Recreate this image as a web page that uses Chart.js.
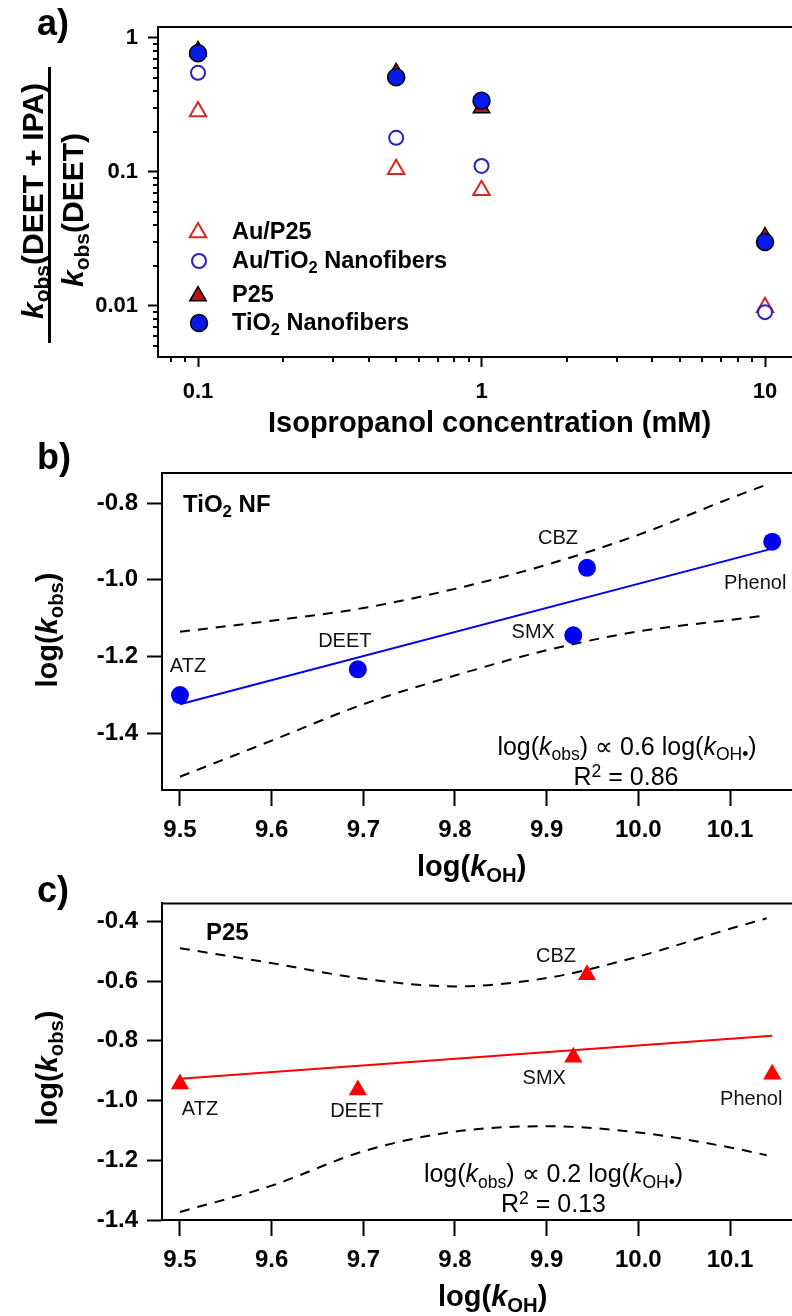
<!DOCTYPE html>
<html>
<head>
<meta charset="utf-8">
<script src="https://cdn.jsdelivr.net/npm/chart.js@4.4.1/dist/chart.umd.min.js"></script>
<style>
body{margin:0;width:792px;height:1316px;position:relative;overflow:hidden;background:#fff;font-family:"Liberation Sans",Arial,sans-serif;color:#000}
canvas{display:block}
.pan{position:absolute;left:0}
.t{position:absolute;white-space:nowrap;line-height:1}
.rot{position:absolute;white-space:nowrap;line-height:1;font-weight:bold;transform:translate(-50%,-50%) rotate(-90deg)}
.sb{font-size:0.7em;position:relative;top:0.3em}
.sp{font-size:0.7em;position:relative;top:-0.45em}
</style>
</head>
<body>
<div class="pan" style="top:0"><canvas id="ca" width="792" height="440"></canvas></div>
<div class="pan" style="top:440px"><canvas id="cb" width="792" height="440"></canvas></div>
<div class="pan" style="top:880px"><canvas id="cc" width="792" height="436"></canvas></div>
<div class="rot" style="left:33px;top:201px;font-size:30px"><i>k</i><span class="sb">obs</span>(DEET + IPA)</div>
<div style="position:absolute;left:48px;top:67px;width:3px;height:276px;background:#000"></div>
<div class="rot" style="left:73px;top:210px;font-size:30px"><i>k</i><span class="sb">obs</span>(DEET)</div>
<div class="rot" style="left:47px;top:630px;font-size:29px">log(<i>k</i><span class="sb">obs</span>)</div>
<div class="rot" style="left:47px;top:1068px;font-size:29px">log(<i>k</i><span class="sb">obs</span>)</div>
<script>
Chart.defaults.font.family = '"Liberation Sans", Arial, sans-serif';
Chart.defaults.color = '#000';

// a) k_obs ratio for DEET with isopropanol added
const ipaConc = [0.1, 0.5, 1, 10];
const ratioAuP25 = [0.283, 0.105, 0.073, 0.0098];
const ratioAuNF = [0.55, 0.18, 0.111, 0.009];
const ratioP25 = [0.80, 0.55, 0.30, 0.0327];
const ratioNF = [0.77, 0.51, 0.34, 0.030];
const ticksA_x = [0.1, 1, 10];
const minorA_x = [0.08, 0.09, 0.2, 0.3, 0.4, 0.5, 0.6, 0.7, 0.8, 0.9, 2, 3, 4, 5, 6, 7, 8, 9];
const ticksA_y = [0.01, 0.1, 1];
const minorA_y = [0.005, 0.006, 0.007, 0.008, 0.009, 0.02, 0.03, 0.04, 0.05, 0.06, 0.07, 0.08, 0.09,
  0.2, 0.3, 0.4, 0.5, 0.6, 0.7, 0.8, 0.9];

// b), c) log(k_obs) against log(k_OH) for each compound
const compounds = ['ATZ', 'DEET', 'SMX', 'CBZ', 'Phenol'];
const logKOH = [9.50, 9.694, 9.929, 9.944, 10.146];
const logKobsNF = [-1.301, -1.234, -1.145, -0.969, -0.901];
const logKobsP25 = [-0.945, -0.965, -0.855, -0.579, -0.912];
const fitX = [9.50, 10.146];
const fitNF = [-1.325, -0.919];
const fitP25 = [-0.927, -0.783];
const bandX = [9.50, 9.60, 9.70, 9.80, 9.90, 10.00, 10.10, 10.14];
const upperNF = [-1.136, -1.107, -1.074, -1.024, -0.961, -0.883, -0.788, -0.752];
const lowerNF = [-1.514, -1.420, -1.325, -1.250, -1.184, -1.135, -1.105, -1.093];
const upperP25 = [-0.490, -0.540, -0.592, -0.618, -0.590, -0.518, -0.425, -0.390];
const lowerP25 = [-1.373, -1.285, -1.170, -1.104, -1.086, -1.107, -1.157, -1.183];
const ticksBC_x = [9.5, 9.6, 9.7, 9.8, 9.9, 10.0, 10.1];
const ticksB_y = [-1.4, -1.2, -1.0, -0.8];
const ticksC_y = [-1.4, -1.2, -1.0, -0.8, -0.6, -0.4];

const xy = (xs, ys) => xs.map((x, i) => ({x: x, y: ys[i]}));

// top edge of the box (right edge is off the canvas)
const frameTop = {
  id: 'frameTop',
  beforeDatasetsDraw(chart) {
    const ctx = chart.ctx, a = chart.chartArea;
    ctx.save();
    ctx.strokeStyle = '#000';
    ctx.lineWidth = 2;
    ctx.beginPath();
    ctx.moveTo(a.left - 1, a.top);
    ctx.lineTo(a.right, a.top);
    ctx.stroke();
    ctx.restore();
  }
};

// short minor ticks on log axes
const minorTicks = {
  id: 'minorTicks',
  afterDraw(chart, args, opts) {
    if (!opts.x) return;
    const ctx = chart.ctx, a = chart.chartArea;
    const sx = chart.scales.x, sy = chart.scales.y;
    ctx.save();
    ctx.strokeStyle = '#000';
    ctx.lineWidth = 2;
    ctx.beginPath();
    opts.x.forEach(v => {
      const px = Math.round(sx.getPixelForValue(v));
      ctx.moveTo(px, a.bottom);
      ctx.lineTo(px, a.bottom + opts.len);
    });
    opts.y.forEach(v => {
      const py = Math.round(sy.getPixelForValue(v));
      ctx.moveTo(a.left, py);
      ctx.lineTo(a.left - opts.len, py);
    });
    ctx.stroke();
    ctx.restore();
  }
};

// compound names next to the points
const pointLabels = {
  id: 'pointLabels',
  afterDatasetsDraw(chart, args, opts) {
    if (!opts.names) return;
    const ctx = chart.ctx;
    const meta = chart.getDatasetMeta(opts.dataset);
    ctx.save();
    ctx.font = '20px "Liberation Sans", Arial, sans-serif';
    ctx.fillStyle = '#111';
    ctx.textAlign = 'center';
    ctx.textBaseline = 'middle';
    meta.data.forEach((pt, i) => {
      ctx.fillText(opts.names[i], pt.x + opts.offsets[i][0], pt.y + opts.offsets[i][1]);
    });
    ctx.restore();
  }
};

// legend symbols inside panel a, drawn with each dataset's own style
const legendMarks = {
  id: 'legendMarks',
  afterDatasetsDraw(chart, args, opts) {
    if (!opts.items) return;
    const ctx = chart.ctx;
    opts.items.forEach(it => {
      const ds = chart.data.datasets[it.ds];
      ctx.save();
      ctx.fillStyle = ds.pointBackgroundColor;
      ctx.strokeStyle = ds.pointBorderColor;
      ctx.lineWidth = ds.pointBorderWidth;
      Chart.helpers.drawPoint(ctx, {pointStyle: ds.pointStyle, radius: ds.pointRadius, rotation: 0, borderWidth: ds.pointBorderWidth}, it.x, it.y);
      ctx.restore();
    });
  }
};

function axis(type, min, max, ticks, fmt, fontSize, tickLen, pad, fitKey, fitVal) {
  return {
    type: type, min: min, max: max, bounds: 'data',
    afterBuildTicks: s => { s.ticks = ticks.map(v => ({value: v})); },
    afterFit: s => { s[fitKey] = fitVal; },
    ticks: {callback: fmt, font: {size: fontSize, weight: 'bold'}, color: '#000', padding: pad, maxRotation: 0, autoSkip: false},
    grid: {display: true, drawOnChartArea: false, drawTicks: true, tickLength: tickLen, tickWidth: 2, tickColor: '#000', color: '#000'},
    border: {display: true, color: '#000', width: 2}
  };
}

function baseOptions(top, scales, plugins) {
  return {
    responsive: false, animation: false, devicePixelRatio: 1, events: [],
    layout: {autoPadding: false, padding: {top: top, left: 0, right: 0, bottom: 0}},
    plugins: Object.assign({legend: {display: false}, tooltip: {enabled: false}}, plugins),
    scales: scales
  };
}

new Chart(document.getElementById('ca'), {
  type: 'scatter',
  data: {
    datasets: [
      {label: 'TiO2 Nanofibers', data: xy(ipaConc, ratioNF), pointStyle: 'circle', pointRadius: 8.5,
        pointBackgroundColor: 'rgb(5,25,235)', pointBorderColor: '#000', pointBorderWidth: 1.5},
      {label: 'P25', data: xy(ipaConc, ratioP25), pointStyle: 'triangle', pointRadius: 9.5,
        pointBackgroundColor: 'rgb(185,20,20)', pointBorderColor: '#000', pointBorderWidth: 1.5},
      {label: 'Au/TiO2 Nanofibers', data: xy(ipaConc, ratioAuNF), pointStyle: 'circle', pointRadius: 7,
        pointBackgroundColor: '#fff', pointBorderColor: 'rgb(35,35,190)', pointBorderWidth: 2},
      {label: 'Au/P25', data: xy(ipaConc, ratioAuP25), pointStyle: 'triangle', pointRadius: 9.5,
        pointBackgroundColor: '#fff', pointBorderColor: 'rgb(215,40,40)', pointBorderWidth: 2}
    ]
  },
  options: baseOptions(27, {
    x: axis('logarithmic', 0.07226, 12.45, ticksA_x, v => String(v), 22, 10, 12, 'height', 83),
    y: axis('logarithmic', 0.004163, 1.208, ticksA_y, v => String(v), 22, 10, 10, 'width', 158)
  }, {
    minorTicks: {x: minorA_x, y: minorA_y, len: 5},
    legendMarks: {items: [{ds: 3, x: 198, y: 232.4}, {ds: 2, x: 199, y: 261}, {ds: 1, x: 198, y: 296}, {ds: 0, x: 199, y: 323}]}
  }),
  plugins: [frameTop, minorTicks, legendMarks]
});

function fitChart(id, top, bottomH, ymin, ymax, yticks, pts, fit, upper, lower, color, style, radius, offsets) {
  new Chart(document.getElementById(id), {
    type: 'scatter',
    data: {
      datasets: [
        {data: xy(logKOH, pts), pointStyle: style, pointRadius: radius, pointBackgroundColor: color, pointBorderWidth: 0},
        {data: xy(fitX, fit), showLine: true, pointRadius: 0, borderColor: color, borderWidth: 2},
        {data: xy(bandX, upper), showLine: true, pointRadius: 0, borderColor: '#000', borderWidth: 2,
          borderDash: [10, 8], cubicInterpolationMode: 'monotone'},
        {data: xy(bandX, lower), showLine: true, pointRadius: 0, borderColor: '#000', borderWidth: 2,
          borderDash: [10, 8], cubicInterpolationMode: 'monotone'}
      ]
    },
    options: baseOptions(top, {
      x: axis('linear', 9.4804, 10.1676, ticksBC_x, v => v.toFixed(1), 24, 16, 10, 'height', bottomH),
      y: axis('linear', ymin, ymax, yticks, v => v.toFixed(1), 24, 15, 9, 'width', 162)
    }, {
      pointLabels: {dataset: 0, names: compounds, offsets: offsets}
    }),
    plugins: [frameTop, pointLabels]
  });
}

fitChart('cb', 33, 90, -1.5487, -0.7217, ticksB_y, logKobsNF, fitNF, upperNF, lowerNF,
  'rgb(0,0,245)', 'circle', 9, [[8, -29], [-13, -28], [-40, -3], [-29, -29], [-17, 42]]);
fitChart('cc', 23, 96, -1.4, -0.34, ticksC_y, logKobsP25, fitP25, upperP25, lowerP25,
  'rgb(255,0,0)', 'triangle', 10.5, [[20, 25], [-1, 21], [-29, 21], [-31, -18], [-21, 25]]);

// panel letters, legend text, axis titles and fit annotations
const notes = [
  ['a)', 37, 22.5, 36, 'bold'],
  ['b)', 37, 456.5, 36, 'bold'],
  ['c)', 37, 889.5, 36, 'bold'],
  ['Au/P25', 232, 231.5, 23.5, 'bold'],
  ['Au/TiO<span class="sb">2</span> Nanofibers', 232, 261, 23.5, 'bold'],
  ['P25', 232, 294.5, 23.5, 'bold'],
  ['TiO<span class="sb">2</span> Nanofibers', 232, 322.5, 23.5, 'bold'],
  ['Isopropanol concentration (mM)', 268, 422.5, 29, 'bold'],
  ['TiO<span class="sb">2</span> NF', 183, 503.5, 24, 'bold'],
  ['log(<i>k</i><span class="sb">obs</span>) \u221d 0.6 log(<i>k</i><span class="sb">OH\u2022</span>)', 627, 746, 25, 'normal', 'center'],
  ['R<span class="sp">2</span> = 0.86', 626, 776.5, 25, 'normal', 'center'],
  ['log(<i>k</i><span class="sb">OH</span>)', 417, 866, 29, 'bold'],
  ['P25', 206, 931.5, 24, 'bold'],
  ['log(<i>k</i><span class="sb">obs</span>) \u221d 0.2 log(<i>k</i><span class="sb">OH\u2022</span>)', 553.5, 1173.5, 25, 'normal', 'center'],
  ['R<span class="sp">2</span> = 0.13', 553.5, 1203.5, 25, 'normal', 'center'],
  ['log(<i>k</i><span class="sb">OH</span>)', 438, 1296, 29, 'bold']
];
notes.forEach(n => {
  const d = document.createElement('div');
  d.className = 't';
  d.innerHTML = n[0];
  d.style.fontSize = n[3] + 'px';
  d.style.fontWeight = n[4];
  d.style.left = n[1] + 'px';
  d.style.top = (n[2] - 0.49 * n[3]) + 'px';
  if (n[5] === 'center') d.style.transform = 'translateX(-50%)';
  document.body.appendChild(d);
});
</script>
</body>
</html>
